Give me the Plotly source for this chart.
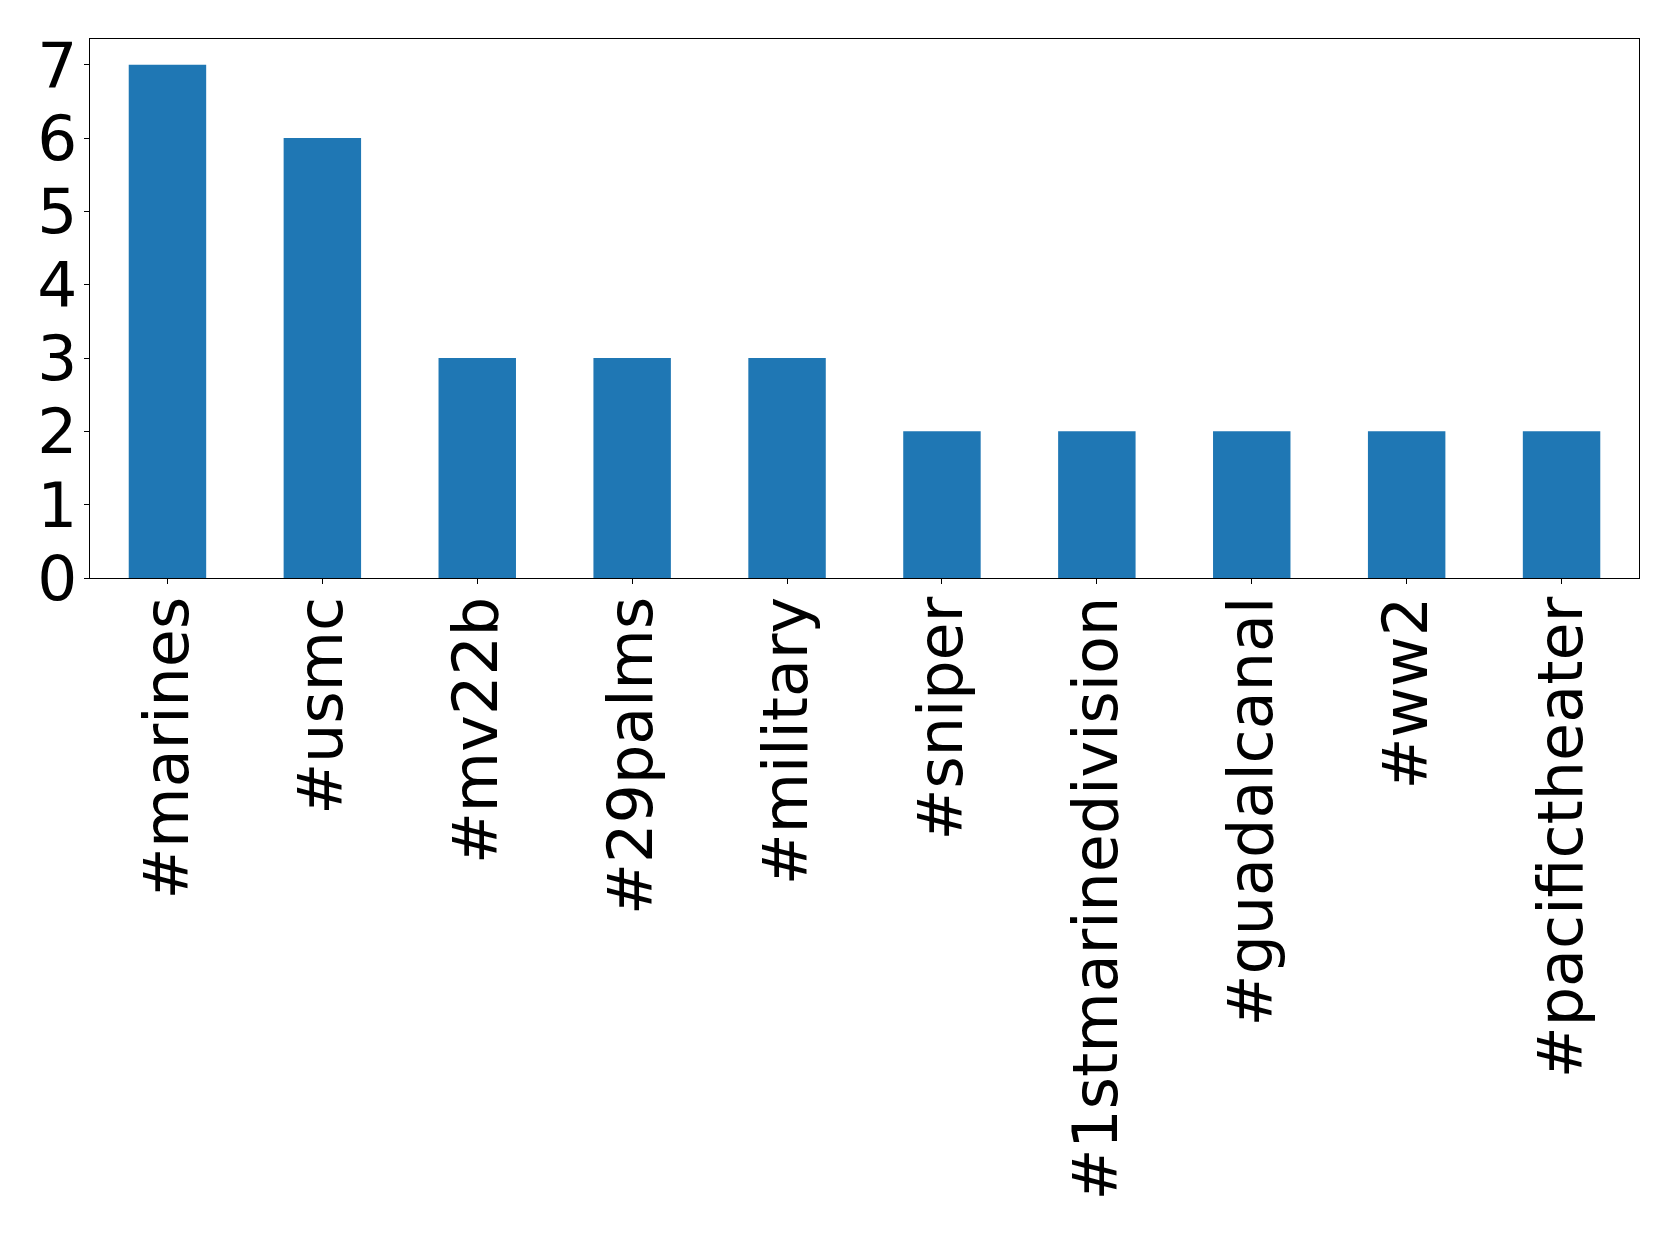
import plotly.graph_objects as go

categories = ["#marines", "#usmc", "#mv22b", "#29palms", "#military", "#sniper",
              "#1stmarinedivision", "#guadalcanal", "#ww2", "#pacifictheater"]
counts = [7, 6, 3, 3, 3, 2, 2, 2, 2, 2]
y_ticks = [0, 1, 2, 3, 4, 5, 6, 7]

fig = go.Figure(go.Bar(x=list(range(len(categories))), y=counts, width=0.5,
                       marker=dict(color="#1f77b4", line=dict(width=0))))

font_fam = "DejaVu Sans"
fig.update_layout(
    width=1671, height=1228,
    margin=dict(l=82, r=40, t=31, b=658, pad=0),
    paper_bgcolor="white", plot_bgcolor="white",
    showlegend=False,
    font=dict(family=font_fam, size=62, color="black"),
)
fig.update_xaxes(
    range=[-0.5, len(categories) - 0.5],
    tickmode="array", tickvals=list(range(len(categories))), ticktext=categories,
    tickangle=-90, ticks="outside", ticklen=5, tickwidth=1, tickcolor="black",
    ticklabelstandoff=-12,
    showline=True, linecolor="black", linewidth=1, mirror=True,
    showgrid=False, zeroline=False,
    tickfont=dict(family=font_fam, size=62, color="black"),
)
fig.update_yaxes(
    range=[0, 7.35],
    tickmode="array", tickvals=y_ticks, ticktext=[str(v) for v in y_ticks],
    ticks="outside", ticklen=5, tickwidth=1, tickcolor="black",
    ticklabelstandoff=-6,
    showline=True, linecolor="black", linewidth=1, mirror=True,
    showgrid=False, zeroline=False,
    tickfont=dict(family=font_fam, size=63, color="black"),
)
fig.write_html("out.html")
